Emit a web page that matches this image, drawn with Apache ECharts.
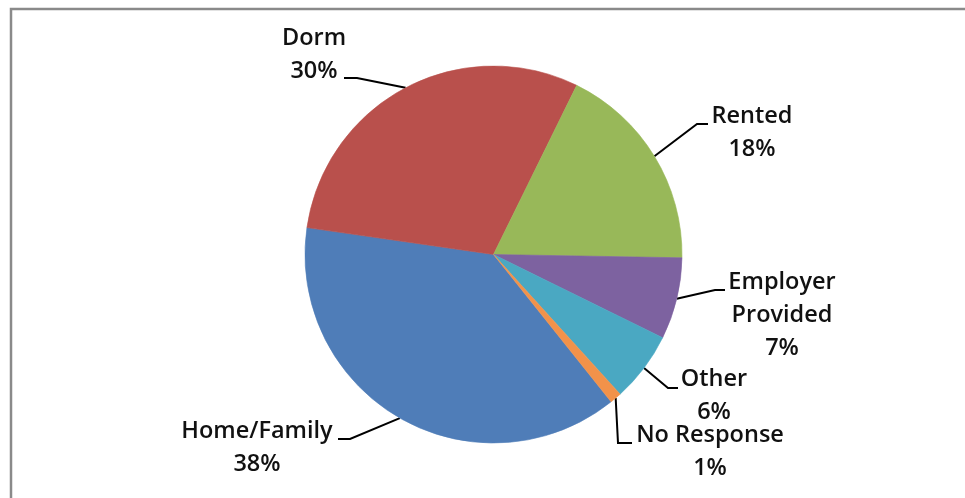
<!DOCTYPE html>
<html>
<head>
<meta charset="utf-8">
<script src="https://cdn.jsdelivr.net/npm/echarts@6/dist/echarts.min.js"></script>
<style>
  html, body { margin: 0; padding: 0; background: #fff; }
  #chart { width: 965px; height: 498px; }
</style>
</head>
<body>
<div id="chart"></div>
<script>
// housing survey, share of responses
const categories = ['Home/Family', 'Dorm', 'Rented', 'Employer Provided', 'Other', 'No Response'];
const shares = [38, 30, 18, 7, 6, 1];
const sliceColors = ['#4F7DB8', '#B9504C', '#98B859', '#7D62A0', '#4AA8C2', '#F2924A'];

// where Excel put each label (text block centre, elbow, line end)
const labelSpots = [
  { x: 257, y: 448, elbow: [350, 439], end: [338, 439] },
  { x: 314, y: 55,  elbow: [357, 78],  end: [344, 78] },
  { x: 752, y: 133, elbow: [697, 124], end: [708, 124] },
  { x: 782, y: 315, elbow: [715, 290], end: [725, 290] },
  { x: 714, y: 396, elbow: [668, 388], end: [678, 388] },
  { x: 710, y: 452, elbow: [618, 443], end: [632, 443] }
];

const chart = echarts.init(document.getElementById('chart'));

chart.setOption({
  animation: false,
  graphic: [{
    type: 'rect',
    shape: { x: 11, y: 9, width: 1200, height: 1200 },
    style: { fill: 'none', stroke: '#8a8a8a', lineWidth: 2.5 },
    silent: true
  }],
  series: [{
    type: 'pie',
    center: [493.5, 254.5],
    radius: 188.5,
    startAngle: 90 - 141.4,
    clockwise: true,
    avoidLabelOverlap: false,
    data: categories.map((name, i) => ({
      name: name,
      value: shares[i],
      itemStyle: { color: sliceColors[i], borderColor: sliceColors[i], borderWidth: 0.6 }
    })),
    label: {
      show: true,
      position: 'outside',
      fontFamily: 'Open Sans',
      fontWeight: 600,
      fontSize: 23.5,
      lineHeight: 33,
      color: '#111',
      align: 'center',
      formatter: p => p.name.replace('Employer ', 'Employer\n') + '\n' + Math.round(p.percent) + '%'
    },
    labelLine: {
      show: true,
      lineStyle: { color: '#000', width: 2 }
    },
    labelLayout: function (params) {
      const s = labelSpots[params.dataIndex];
      const start = params.labelLinePoints ? params.labelLinePoints[0] : s.elbow;
      return {
        x: s.x,
        y: s.y,
        align: 'center',
        verticalAlign: 'middle',
        labelLinePoints: [start, s.elbow, s.end]
      };
    }
  }]
});
</script>
</body>
</html>
